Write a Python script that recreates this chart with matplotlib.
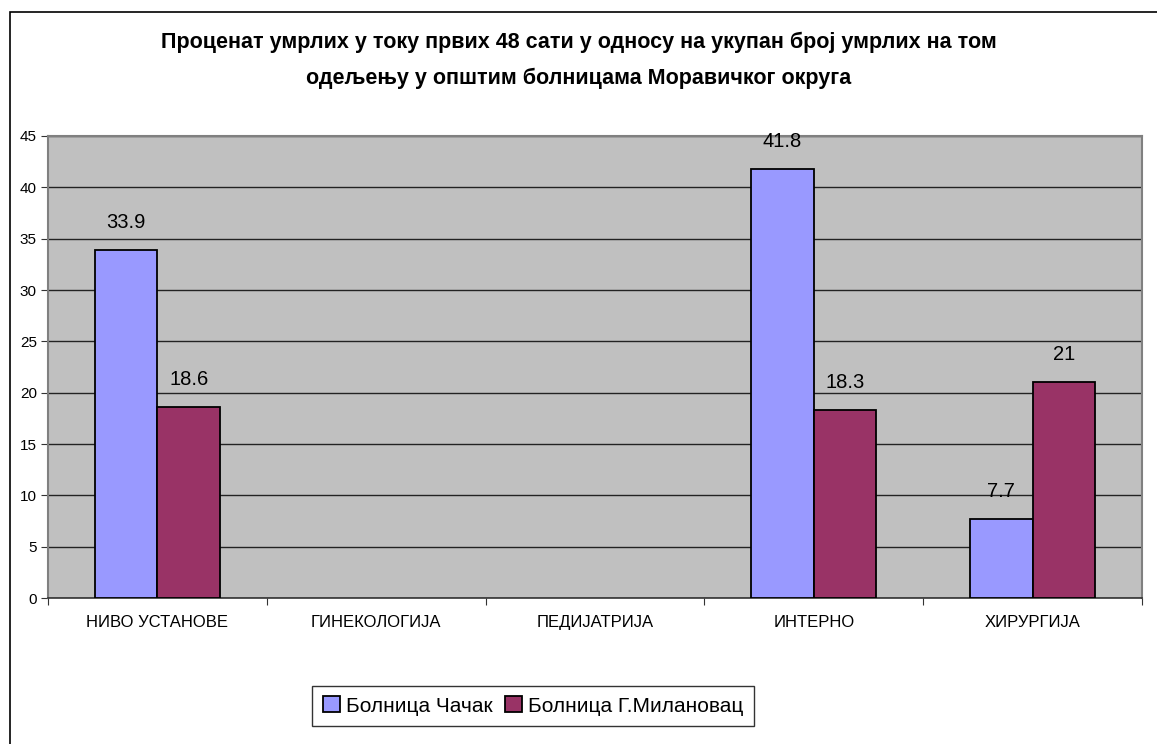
import numpy as np
import matplotlib
matplotlib.use("Agg")
import matplotlib.pyplot as plt
from matplotlib.patches import Rectangle

plt.rcParams['font.family'] = ['Liberation Sans', 'DejaVu Sans']

# Подаци
categories = ["НИВО УСТАНОВЕ", "ГИНЕКОЛОГИЈА", "ПЕДИЈАТРИЈА", "ИНТЕРНО", "ХИРУРГИЈА"]
cacak = [33.9, np.nan, np.nan, 41.8, 7.7]
milanovac = [18.6, np.nan, np.nan, 18.3, 21]
series_names = ["Болница Чачак", "Болница Г.Милановац"]
title = ("Проценат умрлих у току првих 48 сати у односу на укупан број умрлих на том\n"
         "одељењу у општим болницама Моравичког округа")

fig = plt.figure(figsize=(11.57, 7.44), dpi=100)
ax = fig.add_axes([48/1157, 1 - 598/744, (1142 - 48)/1157, (598 - 136)/744])

# рам око целог графикона
fig.patches.append(Rectangle((10/1157, -0.1), 1.2, 1 - 12/744 + 0.1,
                             transform=fig.transFigure, fill=False,
                             edgecolor="black", linewidth=1.2))

x = np.arange(len(categories))
w = 1 / 3.5
b1 = ax.bar(x - w/2, cacak, w, color="#9999FF", edgecolor="black", linewidth=1.3,
            label=series_names[0], zorder=3)
b2 = ax.bar(x + w/2, milanovac, w, color="#993366", edgecolor="black", linewidth=1.3,
            label=series_names[1], zorder=3)

for bars, vals in [(b1, cacak), (b2, milanovac)]:
    for rect, v in zip(bars, vals):
        if np.isnan(v):
            continue
        ax.annotate(f"{v:g}", (rect.get_x() + rect.get_width()/2, v),
                    xytext=(0, 20), textcoords="offset points",
                    ha="center", va="center", fontsize=14.5)

ax.set_facecolor("#C0C0C0")
ax.set_xlim(-0.5, len(categories) - 0.5)
ax.set_ylim(0, 45)
ax.set_yticks(range(0, 46, 5))
ax.yaxis.grid(True, color="#222222", linewidth=1.0, zorder=1)
ax.set_axisbelow(True)

ax.set_xticks(np.arange(-0.5, len(categories), 1))
ax.set_xticklabels([])
ax.set_xticks(x, minor=True)
ax.set_xticklabels(categories, minor=True, fontsize=12)
ax.tick_params(axis="x", which="minor", length=0, pad=12)
ax.tick_params(axis="x", which="major", length=5, direction="out", color="#333333")
ax.tick_params(axis="y", length=5, direction="out", labelsize=11, pad=3, color="#333333")

for side in ["top", "right", "left"]:
    ax.spines[side].set_color("#808080")
    ax.spines[side].set_linewidth(1.5)
ax.spines["bottom"].set_color("#333333")
ax.spines["bottom"].set_linewidth(1.2)

fig.text(0.5, 1 - 60/744, title, ha="center", va="center", fontsize=15.5,
         fontweight="bold", linespacing=1.9)

leg = fig.legend(handles=[b1, b2], loc="center", bbox_to_anchor=(533/1157, 1 - 706/744),
                 ncol=2, frameon=True, fancybox=False, fontsize=15,
                 handlelength=0.8, handleheight=0.8, handletextpad=0.3,
                 columnspacing=0.6, borderpad=0.5)
leg.get_frame().set_edgecolor("black")
leg.get_frame().set_linewidth(1.0)

fig.savefig("out.png", dpi=100)
